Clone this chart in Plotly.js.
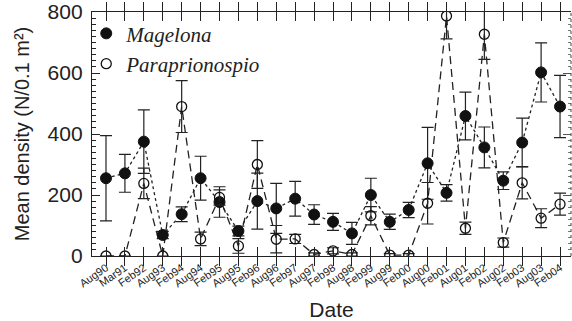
<!DOCTYPE html>
<html>
<head>
<meta charset="utf-8">
<script src="https://cdn.plot.ly/plotly-3.0.1.min.js"></script>
<style>html,body{margin:0;padding:0;background:#fff;}#chart{width:572px;height:321px;}</style>
</head>
<body>
<div id="chart"></div>
<script>
var dates = ["Aug90","Mar91","Feb92","Aug93","Feb94","Aug94","Feb95","Aug95","Feb96","Aug96","Feb97","Aug97","Feb98","Aug98","Feb99","Aug99","Feb00","Aug00","Feb01","Aug01","Feb02","Aug02","Feb03","Aug03","Feb04"];
var magelona = [255, 271, 375, 69, 137, 255, 177, 82, 180, 156, 188, 136, 112, 74, 200, 112, 151, 304, 207, 459, 356, 247, 372, 602, 490];
var magelonaErr = [140, 62, 104, 12, 24, 72, 50, 16, 92, 82, 57, 32, 28, 36, 55, 25, 25, 118, 27, 78, 67, 29, 80, 97, 102];
var para = [0, 0, 238, 0, 490, 56, 192, 33, 300, 55, 56, 5, 17, 5, 132, 3, 3, 173, 787, 91, 727, 44, 240, 124, 170];
var paraErr = [0, 0, 50, 0, 85, 22, 25, 24, 78, 45, 15, 5, 10, 5, 30, 5, 5, 68, 75, 20, 82, 15, 53, 31, 36];

var idx = dates.map(function(d,i){return i;});

var traces = [
  {x: idx, y: para, mode: 'lines', line: {color: '#222', width: 1.3, dash: '8px,5px'}, showlegend: false, hoverinfo: 'skip'},
  {x: idx, y: magelona, mode: 'lines', line: {color: '#222', width: 1.3, dash: 'dot'}, showlegend: false, hoverinfo: 'skip'},
  {x: idx, y: magelona, mode: 'markers', name: '<i>Magelona</i>',
   marker: {symbol: 'circle', size: 11, color: '#111', line: {color: '#111', width: 1}},
   error_y: {type: 'data', array: magelonaErr, visible: true, color: '#222', thickness: 1.2, width: 6}},
  {x: idx, y: para, mode: 'markers', name: '<i>Paraprionospio</i>',
   marker: {symbol: 'circle-open', size: 10, color: '#111', line: {color: '#111', width: 1.3}},
   error_y: {type: 'data', array: paraErr, visible: true, color: '#222', thickness: 1.2, width: 6}},
  {x: [0], y: [0], yaxis: 'y2', mode: 'markers', marker: {opacity: 0}, showlegend: false, hoverinfo: 'skip'}
];

var layout = {
  width: 572, height: 321,
  margin: {l: 92, r: 1, t: 12, b: 65},
  paper_bgcolor: '#fff', plot_bgcolor: '#fff',
  font: {family: 'Liberation Sans, Arial, sans-serif', color: '#222'},
  xaxis: {
    range: [-0.74, 24.58],
    tickmode: 'array', tickvals: idx, ticktext: dates,
    tickangle: -35, tickfont: {size: 11, color: '#222'},
    ticks: 'inside', ticklen: 9, tickwidth: 1, tickcolor: '#222',
    showline: true, linecolor: '#222', linewidth: 1.2, mirror: 'allticks',
    showgrid: false, zeroline: false,
    title: {text: 'Date', font: {size: 21, color: '#222'}, standoff: 16}
  },
  yaxis: {
    range: [0, 800], tickvals: [0, 200, 400, 600, 800],
    tickfont: {size: 21, color: '#222'},
    ticks: 'inside', ticklen: 8, tickwidth: 1, tickcolor: '#222',
    ticklabelstandoff: 4,
    minor: {dtick: 20, ticks: 'inside', ticklen: 4, tickcolor: '#222', tickwidth: 1},
    showline: true, linecolor: '#222', linewidth: 1.2,
    showgrid: false, zeroline: false,
    title: {text: 'Mean density (N/0.1 m²)', font: {size: 20, color: '#222'}, standoff: 12}
  },
  yaxis2: {
    overlaying: 'y', side: 'right', range: [0, 800], tickvals: [0, 200, 400, 600, 800],
    showticklabels: false, ticks: 'inside', ticklen: 8, tickcolor: '#555', tickwidth: 1,
    minor: {dtick: 20, ticks: 'inside', ticklen: 3, tickcolor: '#777', tickwidth: 1},
    showline: false, showgrid: false, zeroline: false
  },
  shapes: [
    {type: 'line', xref: 'paper', yref: 'paper', x0: 1, x1: 1, y0: 0, y1: 1,
     line: {color: '#444', width: 1, dash: 'dot'}}
  ],
  legend: {
    x: -0.012, y: 0.995, xanchor: 'left', yanchor: 'top',
    bgcolor: 'rgba(0,0,0,0)', borderwidth: 0,
    font: {family: 'Liberation Serif, Times New Roman, serif', size: 21, color: '#222'},
    itemwidth: 30, tracegroupgap: 0
  },
  showlegend: true
};

Plotly.newPlot('chart', traces, layout, {staticPlot: true, displayModeBar: false});
</script>
</body>
</html>
